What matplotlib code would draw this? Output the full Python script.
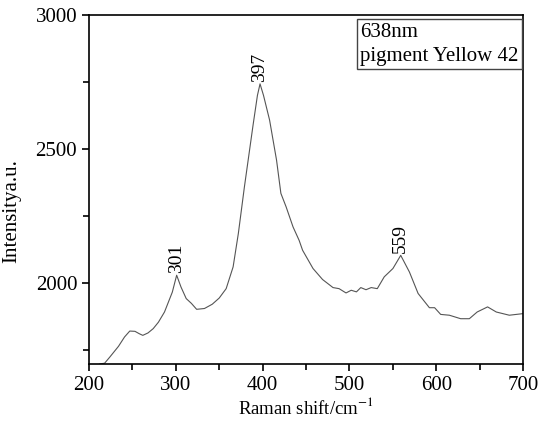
import numpy as np
from matplotlib import pyplot as plt
from matplotlib.ticker import MultipleLocator

plt.rcParams['font.family'] = ['Liberation Serif', 'DejaVu Serif']
plt.rcParams['mathtext.fontset'] = 'stix'

# spectrum
shift = [210, 213, 218, 224, 234, 241, 247, 253, 258, 262, 268, 274, 280,
         287, 296, 301, 306, 312, 318, 324, 333, 342, 350, 358, 366, 372,
         379, 389, 394, 397, 401, 408, 416, 421, 427, 435, 442, 446, 458,
         469, 481, 488, 496, 502, 508, 513, 519, 525, 532, 540, 550, 559,
         569, 579, 592, 598, 605, 615, 628, 638, 647, 659, 669, 684, 700]
intensity = [1695, 1700, 1702, 1725, 1765, 1800, 1822, 1821, 1812, 1806,
             1815, 1831, 1855, 1893, 1967, 2030, 1986, 1943, 1925, 1903,
             1906, 1922, 1945, 1980, 2061, 2185, 2359, 2590, 2700, 2743,
             2700, 2608, 2459, 2335, 2285, 2210, 2160, 2123, 2055, 2014,
             1984, 1980, 1964, 1974, 1968, 1984, 1976, 1984, 1980, 2024,
             2055, 2104, 2042, 1962, 1909, 1909, 1884, 1881, 1868, 1868,
             1893, 1912, 1893, 1881, 1887]
peaks = [301, 397, 559]
peak_heights = [2030, 2743, 2104]

fig = plt.figure(figsize=(5.49, 4.25), dpi=100)
ax = fig.add_axes([0.162, 0.144, 0.791, 0.821])
ax.plot(shift, intensity, color='#555555', lw=0.8)

for p, h in zip(peaks, peak_heights):
    ax.text(p, h + 8, str(p), rotation=90, ha='center', va='bottom', fontsize=14)

ax.set_xlim(200, 700)
ax.set_ylim(1700, 3000)
ax.xaxis.set_major_locator(MultipleLocator(100))
ax.xaxis.set_minor_locator(MultipleLocator(50))
ax.yaxis.set_major_locator(MultipleLocator(500))
ax.yaxis.set_minor_locator(MultipleLocator(250))
ax.tick_params(which='major', direction='out', length=5, width=1.2, labelsize=15)
ax.tick_params(which='minor', direction='out', length=4, width=1.2)
for s in ax.spines.values():
    s.set_linewidth(1.2)

ax.set_xlabel('Raman shift/cm$^{-1}$', fontsize=13.5, labelpad=2)
ax.set_ylabel('Intensitya.u.', fontsize=15)
ax.yaxis.set_label_coords(-0.155, 0.438)

ax.text(0.99, 0.978, '638nm\npigment Yellow 42', transform=ax.transAxes,
        ha='right', va='top', multialignment='left', fontsize=15,
        linespacing=1.4,
        bbox=dict(boxstyle='square,pad=0.15', fc='white', ec='#444444', lw=1))

plt.savefig('out.png', dpi=100)
